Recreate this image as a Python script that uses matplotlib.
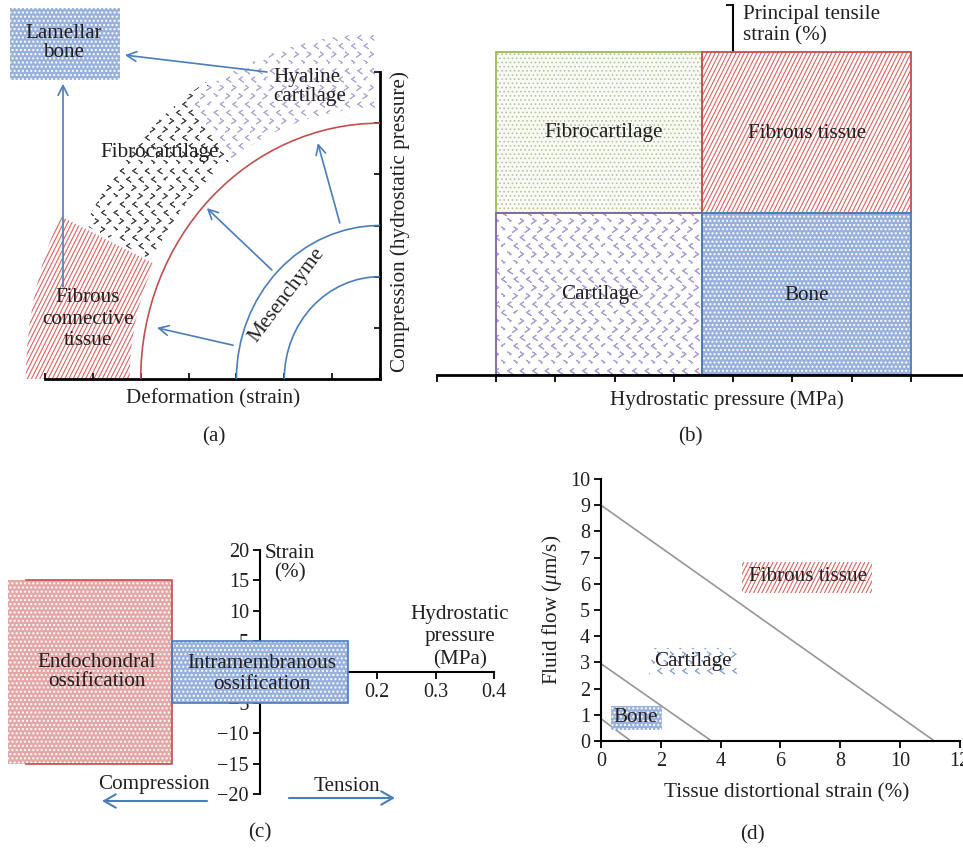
import warnings
import numpy as np
import matplotlib
matplotlib.use('Agg')
import matplotlib.pyplot as plt
import matplotlib.hatch as mhatch
import matplotlib.transforms as mtransforms
from matplotlib.path import Path
from matplotlib.patches import Wedge, Rectangle, Arc, FancyArrowPatch

warnings.filterwarnings('ignore')

# ======================= DATA =======================
# (a) tissue differentiation diagram (centre = origin of the quarter circles)
a_center = (7, 0)
a_mesenchyme_radii = [2, 3]
a_boundary_radius = 5
a_region_names = ['Fibrous\nconnective\ntissue', 'Fibrocartilage', 'Hyaline\ncartilage']
a_region_r_in = [5.23, 5.3, 5.3]
a_region_r_out = [7.4, 6.85, 6.75]
a_region_theta1 = [154.5, 122.0, 91.0]
a_region_theta2 = [180.0, 154.0, 126.0]
a_lamellar_x = [-0.73, 1.57]
a_lamellar_y = [5.84, 7.25]
a_arrow_start = [(4.64, 6.0), (0.376, 1.80), (4.74, 2.13), (6.16, 3.05), (3.93, 0.66)]
a_arrow_end = [(1.67, 6.33), (0.376, 5.77), (3.38, 3.34), (5.70, 4.61), (2.34, 1.0)]
a_xticks = list(range(8))
a_yticks = list(range(7))

# (b) quadrant map
b_names = ['Fibrocartilage', 'Fibrous tissue', 'Cartilage', 'Bone']
b_x0 = [1.0, 4.47, 1.0, 4.47]
b_x1 = [4.47, 8.0, 4.47, 8.0]
b_y0 = [1.0, 1.0, 0.0, 0.0]
b_y1 = [2.0, 2.0, 1.0, 1.0]
b_xticks = list(range(9))

# (c) ossification map
c_names = ['Endochondral\nossification', 'Intramembranous\nossification']
c_pressure_lo = [-0.43, -0.15]
c_pressure_hi = [-0.15, 0.15]
c_strain_lo = [-15, -5]
c_strain_hi = [15, 5]
c_yticks = [-20, -15, -10, -5, 0, 5, 10, 15, 20]
c_xticks = [0.2, 0.3, 0.4]

# (d) boundary lines
d_flow_intercepts = [9.0, 2.95, 0.85]
d_strain_intercepts = [11.15, 3.7, 1.0]
d_names = ['Fibrous tissue', 'Cartilage', 'Bone']
d_xticks = [0, 2, 4, 6, 8, 10, 12]
d_yticks = list(range(11))

# ======================= custom hatches =======================
class ChevronHatch(mhatch.HatchPatternBase):
    """rows of '>' and '<' chevrons (char '<')"""
    def __init__(self, hatch, density):
        n = hatch.count('<')
        self.ncols = 8 * n
        self.nrows = 12 * n
        self.num_vertices = self.ncols * self.nrows * 5

    def set_vertices_and_codes(self, vertices, codes):
        dx = 1.0 / self.ncols
        dy = 1.0 / self.nrows
        w = 0.24 * dx
        h = 0.5 * dy
        vs = []
        cs = []
        for r in range(self.nrows):
            cy = (r + 0.5) * dy
            sign = 1 if (r // 2) % 2 == 0 else -1
            off = (r % 2) * 0.5 * dx
            for c in range(self.ncols):
                cx = (c + 0.25) * dx + off
                tip = (cx + sign * w / 2, cy)
                a = (cx - sign * w / 2, cy + h / 2)
                b = (cx - sign * w / 2, cy - h / 2)
                vs.extend([a, tip, b, tip, a])
                cs.extend([Path.MOVETO, Path.LINETO, Path.LINETO, Path.LINETO, Path.LINETO])
        vertices[:] = np.array(vs)
        codes[:] = np.array(cs)


class SteepHatch(mhatch.HatchPatternBase):
    """steep diagonal lines (char 'z')"""
    def __init__(self, hatch, density):
        self.n = 12 * hatch.count('z')
        self.idx = np.arange(-self.n // 2 - 2, self.n + 2) if self.n else np.array([])
        self.num_vertices = 2 * len(self.idx)

    def set_vertices_and_codes(self, vertices, codes):
        x0 = self.idx / self.n
        vertices[0::2, 0] = x0 - 0.05
        vertices[0::2, 1] = -0.1
        vertices[1::2, 0] = x0 + 0.55
        vertices[1::2, 1] = 1.1
        codes[0::2] = Path.MOVETO
        codes[1::2] = Path.LINETO


mhatch._hatch_types.append(ChevronHatch)
mhatch._hatch_types.append(SteepHatch)

# ======================= STYLE =======================
plt.rcParams['font.family'] = ['Liberation Serif', 'DejaVu Serif']
plt.rcParams['mathtext.fontset'] = 'custom'
plt.rcParams['mathtext.rm'] = 'Liberation Serif'
plt.rcParams['mathtext.it'] = 'Liberation Serif:italic'
FS = 15.2
TFS = 14.5
TXT = '#231f20'
BLUE = '#4a7ebb'
RED = '#c0504d'
GREEN = '#9bbb59'
PURPLE = '#8064a2'
BONE_FACE = '#97b0dc'
PINK_FACE = '#e4a7a7'

W, H = 963, 849
fig = plt.figure(figsize=(W / 100, H / 100), dpi=100)
fig.patch.set_facecolor('white')
PX = mtransforms.Affine2D().scale(1 / W, -1 / H).translate(0, 1) + fig.transFigure


def axes_px(x0, y0, x1, y1):
    ax = fig.add_axes([x0 / W, 1 - y1 / H, (x1 - x0) / W, (y1 - y0) / H])
    ax.patch.set_visible(False)
    return ax


def label(x, y, s, size=FS, **kw):
    kw.setdefault('ha', 'center')
    kw.setdefault('va', 'center')
    kw.setdefault('color', TXT)
    fig.text(x, y, s, transform=PX, fontsize=size, zorder=10, **kw)


def textured(ax, patch, face, hatch, hcolor, hlw=1.0, zorder=2):
    patch.set_facecolor(face)
    patch.set_edgecolor(hcolor)
    patch.set_hatch(hatch)
    patch.set_linewidth(0)
    if hasattr(patch, 'set_hatch_linewidth'):
        patch.set_hatch_linewidth(hlw)
    patch.set_zorder(zorder)
    patch.set_clip_on(False)
    ax.add_patch(patch)
    return patch


BONE_STYLE = dict(face=BONE_FACE, hatch='....', hcolor='white', hlw=1.0)
FIBROUS_STYLE = dict(face='white', hatch='zz', hcolor='#dc6262', hlw=0.8)

# ======================= (a) =======================
axA = axes_px(45, 72, 380, 379)
axA.set_xlim(0, 7)
axA.set_ylim(0, 6)
for s in ['top', 'left']:
    axA.spines[s].set_visible(False)
for s in ['bottom', 'right']:
    axA.spines[s].set_linewidth(2)
axA.set_xticks(a_xticks)
axA.set_yticks(a_yticks)
axA.xaxis.set_ticks_position('bottom')
axA.yaxis.set_ticks_position('right')
axA.tick_params(direction='in', length=4, width=1.2, labelbottom=False,
                labelright=False, labelleft=False)

a_styles = [FIBROUS_STYLE,
            dict(face='white', hatch='<', hcolor='#4a4a4a', hlw=0.7),
            dict(face='white', hatch='<', hcolor='#b3a7d8', hlw=0.7)]
for i in range(3):
    wd = Wedge(a_center, a_region_r_out[i], a_region_theta1[i], a_region_theta2[i],
               width=a_region_r_out[i] - a_region_r_in[i])
    textured(axA, wd, zorder=1, **a_styles[i])

for r in a_mesenchyme_radii:
    axA.add_patch(Arc(a_center, 2 * r, 2 * r, theta1=90, theta2=180,
                      color=BLUE, lw=1.2, zorder=3))
axA.add_patch(Arc(a_center, 2 * a_boundary_radius, 2 * a_boundary_radius,
                  theta1=90, theta2=180, color=RED, lw=1.2, zorder=3))

textured(axA, Rectangle((a_lamellar_x[0], a_lamellar_y[0]),
                        a_lamellar_x[1] - a_lamellar_x[0],
                        a_lamellar_y[1] - a_lamellar_y[0]), **BONE_STYLE)

for st, en in zip(a_arrow_start, a_arrow_end):
    axA.annotate('', xy=en, xytext=st, annotation_clip=False,
                 arrowprops=dict(arrowstyle='->,head_length=0.7,head_width=0.35',
                                 color=BLUE, lw=1.2, shrinkA=0, shrinkB=0))

label(64, 43, 'Lamellar\nbone', linespacing=0.95)
label(273, 87, a_region_names[2], ha='left', linespacing=1.0)
label(100, 152, a_region_names[1], ha='left')
label(88, 319, a_region_names[0], linespacing=1.15)
label(287, 295, 'Mesenchyme', rotation=53)
label(213, 399, 'Deformation (strain)')
label(400, 222, 'Compression (hydrostatic pressure)', rotation=90)
label(214, 437, '(a)')

# ======================= (b) =======================
axB = axes_px(437, 5, 963, 375)
axB.set_xlim(0, 8.88)
axB.set_ylim(0, 2.29)
for s in ['top', 'right']:
    axB.spines[s].set_visible(False)
axB.spines['bottom'].set_linewidth(2)
axB.spines['bottom'].set_zorder(4)
axB.spines['left'].set_position(('data', 5))
axB.spines['left'].set_linewidth(1.5)
axB.set_xticks(b_xticks)
axB.set_yticks([2.29])
axB.tick_params(direction='out', length=5, width=1.3, labelbottom=False, labelleft=False)

b_styles = [dict(face='#f8faf3', hatch='....', hcolor='#b6c49f', hlw=0.7),
            FIBROUS_STYLE,
            dict(face='white', hatch='<', hcolor='#ad9fd3', hlw=0.8),
            BONE_STYLE]
b_edges = [GREEN, RED, PURPLE, BLUE]
for i in range(4):
    rect = Rectangle((b_x0[i], b_y0[i]), b_x1[i] - b_x0[i], b_y1[i] - b_y0[i])
    textured(axB, rect, zorder=3, **b_styles[i])
    axB.add_patch(Rectangle((b_x0[i], b_y0[i]), b_x1[i] - b_x0[i], b_y1[i] - b_y0[i],
                            facecolor='none', edgecolor=b_edges[i], lw=1.3, zorder=3.5))

label(743, 25, 'Principal tensile\nstrain (%)', ha='left', linespacing=1.15)
label(604, 133, b_names[0])
label(807, 133, b_names[1])
label(600, 295, b_names[2])
label(807, 295, b_names[3])
label(727, 400, 'Hydrostatic pressure (MPa)')
label(690, 437, '(b)')

# ======================= (c) =======================
axC = axes_px(2.6, 549.6, 499.85, 794.4)
axC.set_xlim(-0.44, 0.41)
axC.set_ylim(-20, 20)
for s in ['top', 'right']:
    axC.spines[s].set_visible(False)
axC.spines['left'].set_position(('data', 0))
axC.spines['bottom'].set_position(('data', 0))
axC.spines['bottom'].set_bounds(0, 0.4)
axC.spines['left'].set_linewidth(1.5)
axC.spines['bottom'].set_linewidth(1.5)
axC.set_yticks(c_yticks)
axC.set_yticklabels(['' if v == 0 else f'{v:d}'.replace('-', '\u2212') for v in c_yticks])
axC.set_xticks(c_xticks)
axC.set_xticklabels([f'{v:.1f}' for v in c_xticks])
axC.tick_params(direction='out', length=5, width=1.3, labelsize=TFS, labelcolor=TXT, pad=3)

c_styles = [dict(face=PINK_FACE, hatch='....', hcolor='white', hlw=1.0), BONE_STYLE]
for i in range(2):
    rect = Rectangle((c_pressure_lo[i], c_strain_lo[i]),
                     c_pressure_hi[i] - c_pressure_lo[i], c_strain_hi[i] - c_strain_lo[i])
    textured(axC, rect, zorder=3, **c_styles[i])
# borders
axC.plot([c_pressure_lo[0] + 0.03, c_pressure_hi[0], c_pressure_hi[0], c_pressure_lo[0] + 0.03],
         [c_strain_hi[0], c_strain_hi[0], c_strain_lo[0], c_strain_lo[0]],
         color=RED, lw=1.2, zorder=3.5, clip_on=False)
axC.add_patch(Rectangle((c_pressure_lo[1], c_strain_lo[1]),
                        c_pressure_hi[1] - c_pressure_lo[1], c_strain_hi[1] - c_strain_lo[1],
                        facecolor='none', edgecolor=BLUE, lw=1.2, zorder=3.5, clip_on=False))

label(97, 672, c_names[0], linespacing=1.05)
label(262, 674, c_names[1], linespacing=1.1)
label(290, 563, 'Strain\n(%)', linespacing=1.05)
label(460, 637, 'Hydrostatic\npressure\n(MPa)', linespacing=1.25)
label(154, 785, 'Compression')
label(347, 787, 'Tension')
for st, en in [((207, 801), (102, 801)), ((289, 798), (395, 798))]:
    fig.add_artist(FancyArrowPatch(
        st, en, transform=PX, arrowstyle='->,head_length=0.7,head_width=0.4',
        mutation_scale=12, color=BLUE, lw=1.5, shrinkA=0, shrinkB=0))
label(260, 833, '(c)')

# ======================= (d) =======================
axD = axes_px(601, 479, 959.8, 741)
axD.set_xlim(0, 12)
axD.set_ylim(0, 10)
for s in ['top', 'right']:
    axD.spines[s].set_visible(False)
axD.spines['left'].set_linewidth(1.5)
axD.spines['bottom'].set_linewidth(1.5)
axD.set_xticks(d_xticks)
axD.set_yticks(d_yticks)
axD.tick_params(direction='out', length=5, width=1.3, labelsize=TFS, labelcolor=TXT, pad=3)
for fy, sx in zip(d_flow_intercepts, d_strain_intercepts):
    axD.plot([0, sx], [fy, 0], color='#969696', lw=1.2, clip_on=False)

d_boxes = [(4.72, 5.65, 4.34, 1.18), (1.6, 2.48, 2.95, 1.07), (0.33, 0.42, 1.71, 0.92)]
d_styles = [FIBROUS_STYLE,
            dict(face='white', hatch='<', hcolor='#8eacdb', hlw=0.7),
            BONE_STYLE]
for (bx, by, bw, bh), stl in zip(d_boxes, d_styles):
    textured(axD, Rectangle((bx, by), bw, bh), zorder=2, **stl)
label(808, 577, d_names[0])
label(693, 662, d_names[1])
label(636, 718, d_names[2])
label(787, 793, 'Tissue distortional strain (%)')
label(552, 610, r'Fluid flow ($\mu$m/s)', rotation=90)
label(752, 835, '(d)')

fig.savefig('out.png', dpi=100, facecolor='white')
